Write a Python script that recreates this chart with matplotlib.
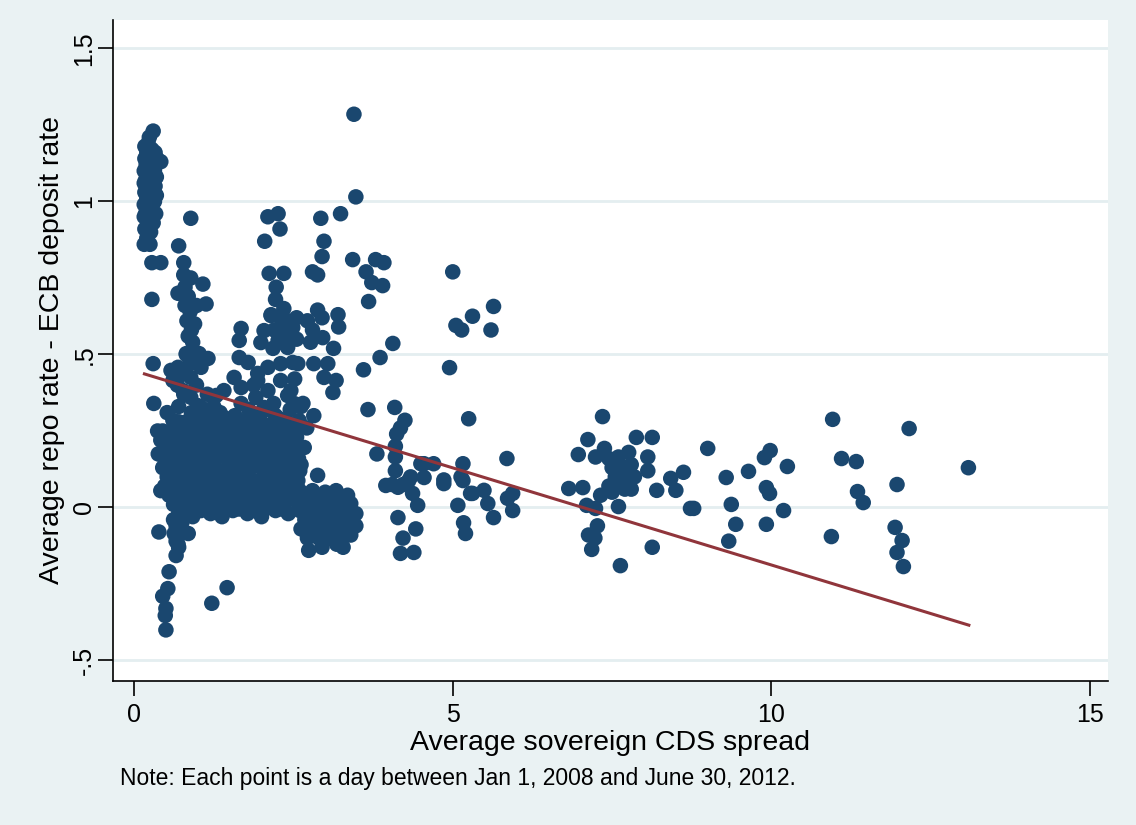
import matplotlib
matplotlib.use("Agg")
import matplotlib.pyplot as plt

plt.rcParams['font.family'] = ['Liberation Sans', 'DejaVu Sans']

# ---- data: (average sovereign CDS spread, average repo rate - ECB deposit rate) ----
stack_pts = [(0.30,1.23),(0.22,1.19),(0.17,1.18),(0.28,1.17),(0.20,1.16),(0.33,1.16),(0.17,1.14),
             (0.25,1.14),(0.30,1.13),(0.42,1.13),(0.19,1.12),(0.27,1.11),(0.16,1.10),(0.22,1.09),
             (0.32,1.10),(0.18,1.07),(0.28,1.07),(0.16,1.06),(0.23,1.05),(0.33,1.05),(0.17,1.03),
             (0.27,1.02),(0.20,1.01),(0.32,1.00),(0.16,0.99),(0.25,0.98),(0.18,0.96),(0.28,0.95),
             (0.16,0.95),(0.22,0.93),(0.30,0.93),(0.17,0.91),(0.26,0.90),(0.20,0.88),(0.16,0.86),
             (0.25,0.86),(0.28,0.80),(0.42,0.80),(0.28,0.68),(0.30,0.47),(0.31,0.34),(0.39,-0.08),
             (0.35,1.08),(0.35,1.02),(0.34,0.96),(0.24,1.21),(0.36,1.14)]

upper_pts = [(0.70,0.855),(0.89,0.945),(0.78,0.80),(0.78,0.76),(0.89,0.75),(0.69,0.70),(1.08,0.73),
             (1.13,0.665),(0.80,0.72),(0.85,0.69),(0.80,0.66),(0.88,0.64),(0.83,0.61),(0.90,0.58),
             (0.85,0.56),(0.92,0.54),(0.95,0.60),(0.98,0.66),(0.82,0.50),(0.88,0.47),
             (2.10,0.95),(2.26,0.96),(2.29,0.91),(2.05,0.87),(2.12,0.765),(2.35,0.765),(2.23,0.72),
             (2.22,0.68),(2.35,0.65),(2.15,0.63),(2.32,0.60),(2.20,0.58),(2.40,0.56),(2.28,0.54),
             (2.18,0.52),(3.45,1.285),(3.48,1.015),(3.24,0.96),(2.93,0.945),(2.98,0.87),(2.95,0.82),
             (2.80,0.77),(2.88,0.76),(3.43,0.81),(3.64,0.77),(3.79,0.81),(3.92,0.80),(3.73,0.735),
             (3.90,0.725),(3.68,0.673),(4.06,0.536),(3.86,0.49),(3.60,0.45),(3.67,0.32),(5.00,0.77),
             (5.05,0.595),(5.14,0.58),(5.31,0.625),(5.64,0.657),(5.60,0.58),(4.95,0.457),
             (2.88,0.645),(2.72,0.61),(3.20,0.63),(3.21,0.59),(2.77,0.54),(2.96,0.555),(3.13,0.52),
             (2.82,0.47),(3.04,0.47),(2.98,0.425),(3.17,0.415),(3.12,0.376),(2.95,0.62),(2.80,0.58)]

middle_pts = [(1.68,0.585),(1.65,0.546),(2.15,0.627),(2.34,0.62),(2.49,0.588),(2.04,0.578),
              (1.99,0.539),(2.26,0.546),(2.41,0.523),(1.65,0.49),(1.79,0.474),(1.94,0.438),
              (2.10,0.458),(2.30,0.47),(2.49,0.474),(1.57,0.425),(1.68,0.392),(1.91,0.36),
              (2.10,0.382),(2.30,0.415),(2.46,0.382),(2.51,0.34),(2.19,0.34),(1.83,0.307),
              (2.35,0.25),(2.59,0.284),(2.55,0.55),(2.57,0.47),(2.52,0.42),(2.55,0.62),
              (2.62,0.33),(2.82,0.30),(2.71,0.26),(2.88,0.105),(2.38,0.25),(2.67,0.196),
              (2.62,0.14),(2.57,0.088),(2.45,0.12),(2.55,0.09)]

left_pts = [(0.61,0.285),(0.86,0.28),(0.45,0.25),(0.38,0.175),(0.47,0.13),(0.42,0.055),
            (0.78,0.37),(1.05,0.327),(1.20,0.285),(1.41,0.294),(1.68,0.34),(1.88,0.40),
            (2.04,0.327),(2.41,0.366),(2.65,0.34),(1.94,0.415),(0.82,0.503),(1.02,0.503),
            (1.16,0.487),(0.69,0.458),(0.61,0.415),(0.77,0.382),(0.89,0.36),(1.00,0.333),
            (1.29,0.366),(0.89,0.425),(1.05,0.458),(0.58,0.448),(0.78,0.438),(0.37,0.25),
            (1.41,0.382),(1.47,0.285),(1.32,0.294),(0.68,0.40),(0.98,0.40),(1.15,0.37),
            (0.70,0.33),(0.52,0.31),(1.25,0.33)]

blob_pts = [(0.70,-0.02),(0.92,-0.03),(1.20,-0.02),(1.38,-0.03),(1.55,-0.01),(1.78,-0.02),(2.00,-0.03),(2.22,-0.01),(2.42,-0.02),
            (0.62,0.01),(0.82,0.00),(1.02,0.02),(1.28,0.01),(1.48,0.00),(1.70,0.01),(1.90,0.02),(2.12,0.00),(2.35,0.01),(2.55,0.02),
            (0.55,0.04),(0.75,0.05),(0.95,0.04),(1.15,0.03),(1.35,0.05),(1.60,0.04),(1.80,0.03),(2.02,0.05),(2.25,0.04),(2.48,0.05),
            (0.48,0.07),(0.68,0.08),(0.88,0.07),(1.08,0.06),(1.30,0.08),(1.50,0.07),(1.72,0.08),(1.95,0.06),(2.15,0.07),(2.40,0.08),(2.58,0.06),
            (0.52,0.10),(0.72,0.11),(0.98,0.10),(1.20,0.09),(1.42,0.11),(1.62,0.10),(1.85,0.09),(2.08,0.11),(2.30,0.10),(2.50,0.11),
            (0.45,0.13),(0.65,0.14),(0.85,0.13),(1.05,0.12),(1.25,0.14),(1.48,0.13),(1.70,0.12),(1.92,0.14),(2.18,0.13),(2.42,0.14),(2.60,0.12),
            (0.55,0.16),(0.78,0.17),(1.00,0.16),(1.18,0.15),(1.38,0.17),(1.58,0.16),(1.80,0.15),(2.02,0.17),(2.25,0.16),(2.48,0.17),
            (0.50,0.19),(0.70,0.20),(0.92,0.19),(1.12,0.18),(1.32,0.20),(1.55,0.19),(1.75,0.18),(1.98,0.20),(2.20,0.19),(2.40,0.20),
            (0.42,0.22),(0.62,0.23),(0.85,0.22),(1.08,0.21),(1.28,0.23),(1.50,0.22),(1.70,0.21),(1.90,0.23),(2.12,0.22),(2.35,0.21),(2.55,0.23),
            (0.58,0.25),(0.80,0.26),(1.00,0.25),(1.22,0.24),(1.45,0.26),(1.65,0.25),(1.88,0.24),(2.08,0.26),(2.30,0.25),(2.50,0.26),
            (0.70,0.28),(0.95,0.29),(1.15,0.28),(1.40,0.27),(1.62,0.29),(1.82,0.28),(2.05,0.27),(2.28,0.29),
            (0.90,0.31),(1.10,0.32),(1.35,0.31),(1.58,0.30),(1.80,0.32),(2.00,0.31),(2.22,0.30),(2.45,0.32)]

blob_fill_pts = [(0.80,-0.01),(1.05,-0.01),(1.30,-0.005),(1.65,-0.005),(1.90,-0.01),(2.32,-0.005),
                 (0.72,0.025),(0.90,0.02),(1.18,0.015),(1.40,0.025),(1.58,0.02),(1.85,0.015),(2.05,0.02),(2.22,0.025),(2.45,0.03),
                 (0.62,0.06),(0.82,0.055),(1.00,0.06),(1.22,0.055),(1.42,0.06),(1.65,0.055),(1.85,0.06),(2.08,0.055),(2.30,0.06),(2.52,0.085),
                 (0.60,0.09),(0.80,0.095),(1.10,0.09),(1.32,0.095),(1.55,0.09),(1.75,0.095),(1.98,0.09),(2.20,0.095),(2.40,0.11),
                 (0.55,0.12),(0.75,0.125),(0.95,0.12),(1.15,0.125),(1.35,0.12),(1.58,0.125),(1.80,0.12),(2.02,0.125),(2.30,0.125),
                 (0.48,0.16),(0.68,0.155),(0.90,0.15),(1.10,0.155),(1.28,0.16),(1.48,0.155),(1.68,0.16),(1.90,0.155),(2.12,0.15),(2.35,0.155),(2.58,0.16),
                 (0.60,0.185),(0.82,0.18),(1.02,0.19),(1.22,0.185),(1.42,0.18),(1.65,0.185),(1.88,0.19),(2.10,0.18),(2.30,0.185),(2.50,0.19),
                 (0.52,0.215),(0.75,0.21),(0.95,0.215),(1.18,0.22),(1.40,0.21),(1.60,0.215),(1.80,0.22),(2.02,0.21),(2.25,0.22),(2.45,0.215),
                 (0.68,0.245),(0.90,0.24),(1.10,0.245),(1.32,0.25),(1.55,0.24),(1.78,0.245),(1.98,0.25),(2.20,0.24),(2.40,0.245),
                 (0.82,0.28),(1.05,0.275),(1.28,0.28),(1.50,0.28),(1.72,0.275),(1.95,0.28),(2.18,0.275),(2.40,0.28)]

negleg_pts = [(0.66,-0.157),(0.55,-0.21),(0.53,-0.265),(0.45,-0.29),(0.50,-0.33),(0.49,-0.353),
              (0.50,-0.40),(1.46,-0.262),(1.22,-0.313),(0.85,-0.085),(0.66,-0.11),(0.66,-0.06),
              (0.70,-0.13),(0.62,-0.04),(0.75,-0.05),(0.63,-0.085),(0.69,-0.12)]

blob2_pts = [(2.62,0.05),(2.80,0.055),(3.00,0.05),(3.17,0.055),(3.35,0.04),
             (2.70,0.02),(2.88,0.02),(3.08,0.02),(3.25,0.02),(3.40,0.013),
             (2.60,-0.01),(2.78,-0.01),(2.95,-0.01),(3.12,-0.01),(3.30,-0.01),(3.48,-0.02),
             (2.68,-0.04),(2.85,-0.04),(3.02,-0.04),(3.20,-0.04),(3.38,-0.04),
             (2.62,-0.07),(2.80,-0.07),(2.98,-0.07),(3.15,-0.07),(3.32,-0.07),(3.48,-0.06),
             (2.72,-0.10),(2.90,-0.10),(3.08,-0.10),(3.25,-0.10),(3.40,-0.09),
             (2.74,-0.14),(2.95,-0.13),(3.18,-0.12),(3.28,-0.13)]

mid_right_pts = [(4.09,0.327),(4.25,0.285),(4.18,0.26),(4.12,0.24),(4.10,0.20),(4.10,0.165),
                 (4.10,0.12),(3.81,0.175),(5.25,0.29),(5.16,0.143),(4.55,0.143),(4.70,0.143),
                 (4.34,0.10),(4.86,0.09),(5.13,0.10),(4.50,0.143),(4.55,0.098),(4.86,0.078),
                 (5.16,0.088),(5.28,0.046),(3.95,0.072),(4.14,0.066),(4.31,0.088),(4.37,0.046),
                 (4.45,0.007),(5.08,0.007),(4.14,-0.033),(4.42,-0.07),(5.17,-0.05),(5.20,-0.085),
                 (4.22,-0.10),(4.18,-0.15),(4.39,-0.147),(5.85,0.16),(5.31,0.046),(5.49,0.056),
                 (5.55,0.013),(5.64,-0.033),(5.86,0.03),(5.94,0.046),(5.94,-0.01),(4.22,0.075),
                 (4.05,0.075)]

right_pts = [(7.35,0.297),(7.12,0.222),(6.97,0.173),(7.24,0.165),(7.38,0.193),(7.88,0.229),
             (8.13,0.229),(7.76,0.18),(8.06,0.165),(8.06,0.12),(7.45,0.16),(7.50,0.13),(7.60,0.14),
             (7.70,0.12),(7.80,0.14),(7.55,0.10),(7.65,0.08),(7.75,0.09),(7.45,0.07),(7.85,0.10),
             (7.50,0.05),(7.70,0.06),(7.60,0.165),(7.80,0.06),(6.82,0.062),(7.04,0.065),(7.32,0.04),
             (8.20,0.056),(8.42,0.095),(8.62,0.115),(8.50,0.056),(8.73,-0.003),(7.10,0.007),
             (7.24,-0.003),(7.60,0.003),(7.27,-0.06),(7.13,-0.09),(7.23,-0.10),(7.18,-0.137),
             (8.13,-0.13),(7.63,-0.19)]

far_pts = [(10.96,0.288),(12.16,0.258),(13.09,0.13),(9.00,0.193),(9.29,0.098),(9.64,0.118),
           (9.89,0.163),(9.98,0.186),(10.25,0.134),(9.92,0.065),(9.97,0.046),(11.10,0.16),
           (11.33,0.15),(11.35,0.052),(11.44,0.016),(11.97,0.075),(8.78,-0.003),(9.37,0.01),
           (9.44,-0.055),(9.33,-0.11),(9.92,-0.055),(10.19,-0.01),(10.94,-0.095),(11.94,-0.065),
           (12.05,-0.108),(11.97,-0.147),(12.07,-0.193)]

# fitted line endpoints
fit_x = [0.14, 13.12]
fit_y = [0.438, -0.386]

x_ticks = [0, 5, 10, 15]
x_ticklabels = ["0", "5", "10", "15"]
y_ticks = [-0.5, 0, 0.5, 1, 1.5]
y_ticklabels = ["-.5", "0", ".5", "1", "1.5"]

all_pts = (stack_pts + upper_pts + middle_pts + left_pts + blob_pts + blob_fill_pts +
           negleg_pts + blob2_pts + mid_right_pts + right_pts + far_pts)
cds = [p[0] for p in all_pts]
repo = [p[1] for p in all_pts]

# ---- drawing ----
BG = "#EAF2F3"
NAVY = "#1A476F"
MAROON = "#90353B"

fig = plt.figure(figsize=(11.36, 8.25), dpi=100, facecolor=BG)
ax = fig.add_axes([113/1136, 1 - 681/825, (1108 - 113)/1136, (681 - 20)/825])
ax.set_facecolor("white")

ax.scatter(cds, repo, s=125, color=NAVY, edgecolors="none", zorder=3)
ax.plot(fit_x, fit_y, color=MAROON, lw=2.2, zorder=4, solid_capstyle="butt")

ax.set_xlim(-0.33, 15.28)
ax.set_ylim(-0.567, 1.593)

ax.set_xticks(x_ticks)
ax.set_xticklabels(x_ticklabels)
ax.set_yticks(y_ticks)
ax.set_yticklabels(y_ticklabels, rotation=90, va="center")

ax.grid(axis="y", color="#E4EEF0", lw=2.0, zorder=0)
ax.set_axisbelow(True)

for side in ("top", "right"):
    ax.spines[side].set_visible(False)
for side in ("left", "bottom"):
    ax.spines[side].set_linewidth(1.2)
    ax.spines[side].set_color("black")

ax.tick_params(axis="both", direction="out", length=11, width=1.2, labelsize=18,
               colors="black")
ax.tick_params(axis="x", pad=5)
ax.tick_params(axis="y", pad=1)

ax.set_xlabel("Average sovereign CDS spread", fontsize=20.5, labelpad=2)
ax.set_ylabel("Average repo rate - ECB deposit rate", fontsize=20.5, labelpad=5)

fig.text(120/1136, 1 - 779/825, "Note: Each point is a day between Jan 1, 2008 and June 30, 2012.",
         fontsize=16.5, ha="left", va="center")

fig.savefig("out.png", dpi=100, facecolor=BG)
